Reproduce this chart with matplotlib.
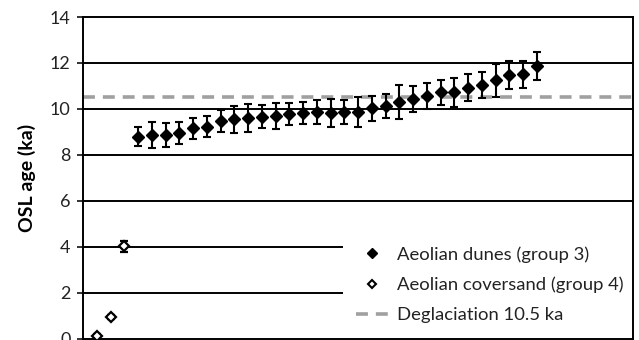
import matplotlib
matplotlib.use("Agg")
import matplotlib.pyplot as plt
from matplotlib.lines import Line2D

plt.rcParams['font.family'] = ['Lato', 'DejaVu Sans']

# ---------- data ----------
coversand_rank = [1, 2, 3]
coversand_age = [0.15, 0.97, 4.03]
coversand_err = [0.05, 0.08, 0.25]

dune_rank = list(range(4, 34))
dune_age = [8.80, 8.87, 8.88, 8.94, 9.16, 9.23, 9.46, 9.55, 9.60, 9.66,
            9.70, 9.77, 9.84, 9.86, 9.83, 9.87, 9.88, 10.03, 10.13, 10.30,
            10.42, 10.57, 10.73, 10.72, 10.92, 11.04, 11.24, 11.47, 11.50, 11.88]
dune_err = [0.42, 0.58, 0.52, 0.48, 0.45, 0.46, 0.48, 0.60, 0.62, 0.50,
            0.56, 0.48, 0.48, 0.52, 0.60, 0.52, 0.65, 0.55, 0.52, 0.74,
            0.57, 0.55, 0.55, 0.63, 0.58, 0.57, 0.70, 0.60, 0.58, 0.60]

deglaciation = 10.5
yticks = [0, 2, 4, 6, 8, 10, 12, 14]

# ---------- figure ----------
fig = plt.figure(figsize=(6.39, 3.40), dpi=100)
ax = fig.add_axes([0.130, 0.003, 0.861, 0.947])

for t in yticks[1:-1]:
    ax.axhline(t, color="black", lw=1.4, zorder=1)

ax.axhline(deglaciation, color="#a0a0a0", lw=2.6, dashes=(3.3, 2.2),
           dash_capstyle="butt", zorder=1.5)

ax.errorbar(dune_rank, dune_age, yerr=dune_err, fmt="D", ms=5.8,
            color="black", ecolor="black", elinewidth=1.5, capsize=3,
            capthick=1.5, zorder=3)
ax.errorbar(coversand_rank, coversand_age, yerr=coversand_err, fmt="D",
            ms=4.8, mfc="white", mec="black", mew=1.6, ecolor="black",
            elinewidth=1.5, capsize=3, capthick=1.5, zorder=3)
for c in ax.collections + ax.lines:
    c.set_clip_on(False)

ax.set_xlim(0, 40)
ax.set_ylim(0, 14)
ax.set_yticks(yticks)
ax.set_xticks([])
ax.tick_params(axis="y", direction="out", length=4, width=1.3, pad=5,
               labelsize=13, colors="#222222")
for s in ax.spines.values():
    s.set_linewidth(1.4)
    s.set_zorder(2.5)
ax.set_ylabel("OSL age (ka)", fontsize=14, fontweight="bold", labelpad=10)

# ---------- legend ----------
handles = [
    Line2D([], [], ls="none", marker="D", ms=5, color="black"),
    Line2D([], [], ls="none", marker="D", ms=4.2, mfc="white", mec="black", mew=1.5),
    Line2D([], [], color="#a0a0a0", lw=2.6, dashes=(3.3, 2.2), dash_capstyle="butt"),
]
labels = ["Aeolian dunes (group 3)", "Aeolian coversand (group 4)",
          "Deglaciation 10.5 ka"]
leg = ax.legend(handles, labels, loc="upper left", bbox_to_anchor=(0.472, 0.328),
                fontsize=13.3, frameon=True, facecolor="white", edgecolor="none",
                framealpha=1, fancybox=False, borderaxespad=0, borderpad=0.7,
                handlelength=1.8, handletextpad=0.45, labelspacing=0.75)
leg.set_zorder(2.2)
for txt in leg.get_texts():
    txt.set_color("#222222")

fig.savefig("out.png", dpi=100)
